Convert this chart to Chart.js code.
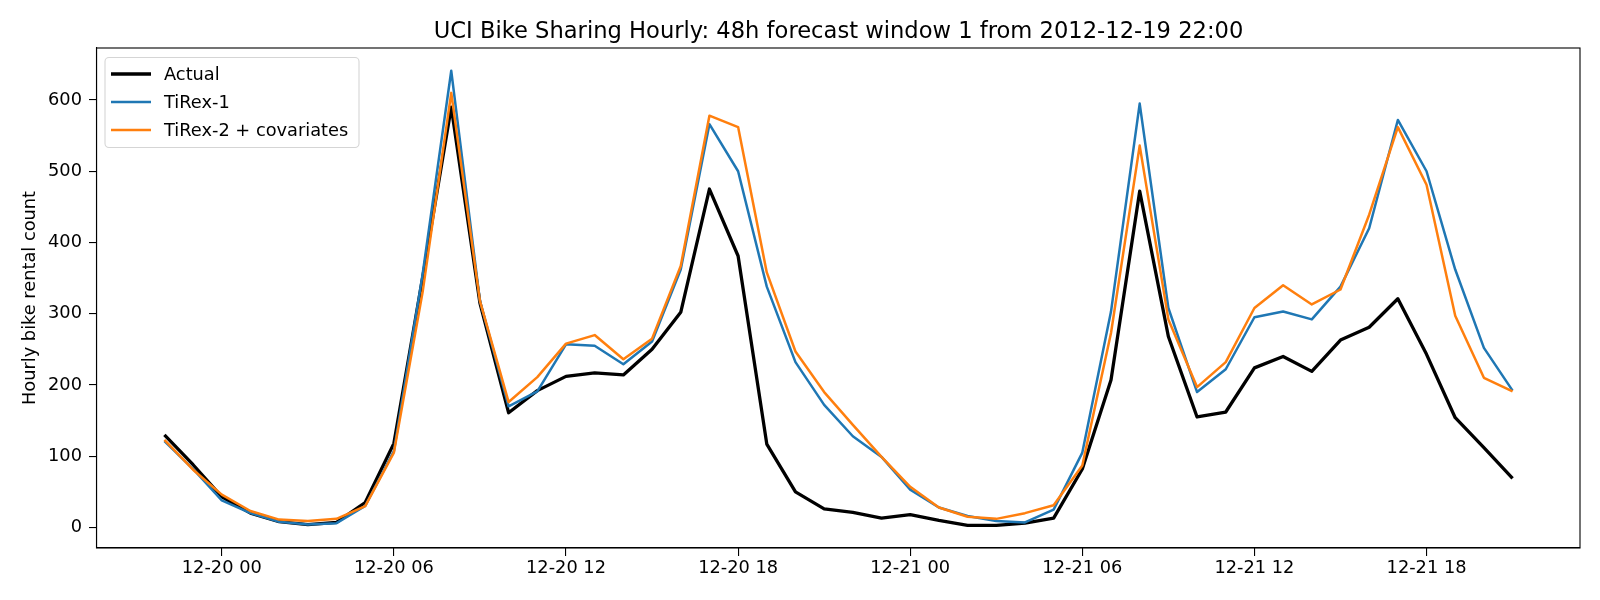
<!DOCTYPE html>
<html>
<head>
<meta charset="utf-8">
<script src="https://cdn.jsdelivr.net/npm/chart.js@4.4.1/dist/chart.umd.min.js"></script>
<style>
  html, body { margin: 0; padding: 0; background: #ffffff; }
  #wrap { width: 1600px; height: 600px; }
</style>
</head>
<body>
<div id="wrap"><canvas id="chart" width="1600" height="600"></canvas></div>
<script>
// Hourly window: index 0 = 2012-12-19 22:00, index 47 = 2012-12-21 21:00
const hours = [
  0, 1, 2, 3, 4, 5, 6, 7, 8, 9, 10, 11, 12, 13, 14, 15, 16, 17, 18, 19, 20, 21, 22, 23,
  24, 25, 26, 27, 28, 29, 30, 31, 32, 33, 34, 35, 36, 37, 38, 39, 40, 41, 42, 43, 44, 45, 46, 47
];

const actual = [
  130, 88, 43, 20, 8, 4, 7, 35, 118, 350, 590, 315, 161, 192, 212, 217, 214, 250, 302, 475, 381, 117, 50, 26,
  21, 13, 18, 10, 3, 3, 6, 13, 82, 207, 472, 268, 155, 162, 224, 240, 219, 263, 281, 321, 243, 154, 112, 69
];

const tirex1 = [
  121, 82, 38, 20, 8, 4, 6, 30, 107, 355, 641, 318, 170, 191, 257, 255, 229, 261, 362, 566, 500, 338, 232, 172,
  128, 99, 53, 28, 16, 9, 7, 25, 105, 303, 595, 308, 190, 222, 295, 303, 292, 338, 420, 572, 500, 362, 252, 192
];

const tirex2 = [
  123, 81, 46, 23, 11, 9, 12, 30, 105, 330, 610, 318, 176, 211, 258, 270, 236, 265, 367, 578, 562, 358, 247, 190,
  144, 99, 57, 28, 15, 12, 20, 31, 87, 273, 536, 292, 197, 232, 308, 340, 313, 334, 439, 562, 481, 297, 210, 191
];

const tickHours = [2, 8, 14, 20, 26, 32, 38, 44];
const tickLabels = ['12-20 00', '12-20 06', '12-20 12', '12-20 18', '12-21 00', '12-21 06', '12-21 12', '12-21 18'];
const yTicks = [0, 100, 200, 300, 400, 500, 600];

const seriesNames = ['Actual', 'TiRex-1', 'TiRex-2 + covariates'];
const seriesColors = ['#000000', '#1f77b4', '#ff7f0e'];

const chartTitle = 'UCI Bike Sharing Hourly: 48h forecast window 1 from 2012-12-19 22:00';
const FONT = "'DejaVu Sans', sans-serif";

function toPoints(vals) {
  return vals.map((v, i) => ({ x: hours[i], y: v }));
}

// title centred over the plot area (matplotlib style), not over the canvas
const axesTitle = {
  id: 'axesTitle',
  afterDraw(chart) {
    const a = chart.chartArea;
    const ctx = chart.ctx;
    ctx.save();
    ctx.font = '21.3px ' + FONT;
    // size the title so it spans the same width as in the reference
    const size = 21.3 * 810 / ctx.measureText(chartTitle).width;
    ctx.font = Math.min(23, Math.max(20, size)).toFixed(2) + 'px ' + FONT;
    ctx.fillStyle = '#000000';
    ctx.textAlign = 'center';
    ctx.textBaseline = 'alphabetic';
    ctx.fillText(chartTitle, (a.left + a.right) / 2, 37.5);
    ctx.restore();
  }
};

// axes frame (all four spines), drawn over the lines like matplotlib
const framePlugin = {
  id: 'frame',
  afterDatasetsDraw(chart) {
    const a = chart.chartArea;
    const ctx = chart.ctx;
    ctx.save();
    ctx.strokeStyle = '#000000';
    ctx.lineWidth = 1.1;
    ctx.strokeRect(a.left - 0.5, a.top, a.right - a.left + 0.5, a.bottom - a.top);
    ctx.restore();
  }
};

// matplotlib-style legend box in the upper left corner
const boxLegend = {
  id: 'boxLegend',
  afterDraw(chart) {
    const ctx = chart.ctx;
    const a = chart.chartArea;
    const x0 = a.left + 8, y0 = a.top + 9.5, w = 254, h = 90, r = 4;
    ctx.save();
    ctx.beginPath();
    ctx.roundRect(x0, y0, w, h, r);
    ctx.fillStyle = 'rgba(255,255,255,0.8)';
    ctx.fill();
    ctx.strokeStyle = '#d5d5d5';
    ctx.lineWidth = 1.1;
    ctx.stroke();
    ctx.font = '17.8px ' + FONT;
    ctx.textBaseline = 'middle';
    chart.data.datasets.forEach((ds, i) => {
      const y = y0 + 16.5 + i * 28;
      ctx.beginPath();
      ctx.strokeStyle = ds.borderColor;
      ctx.lineWidth = ds.borderWidth;
      ctx.moveTo(x0 + 6, y);
      ctx.lineTo(x0 + 46, y);
      ctx.stroke();
      ctx.fillStyle = '#000000';
      ctx.fillText(ds.label, x0 + 59, y + 1);
    });
    ctx.restore();
  }
};

const datasets = [actual, tirex1, tirex2].map((vals, i) => ({
  label: seriesNames[i],
  data: toPoints(vals),
  borderColor: seriesColors[i],
  backgroundColor: seriesColors[i],
  borderWidth: i === 0 ? 3.3 : 2.5,
  pointRadius: 0,
  tension: 0,
  borderJoinStyle: 'round',
  order: 3 - i
}));

new Chart(document.getElementById('chart').getContext('2d'), {
  type: 'line',
  data: { datasets: datasets },
  options: {
    responsive: false,
    animation: false,
    layout: { padding: { left: 0, right: 20, top: 48, bottom: 0 } },
    plugins: {
      legend: { display: false },
      tooltip: { enabled: false },
      title: { display: false }
    },
    scales: {
      x: {
        type: 'linear',
        min: -2.35,
        max: 49.35,
        afterBuildTicks(scale) {
          scale.ticks = tickHours.map(v => ({ value: v }));
        },
        afterFit(scale) { scale.height = 52; },
        grid: { display: true, drawOnChartArea: false, drawTicks: true, tickLength: 8, color: '#000000', lineWidth: 1.1 },
        border: { display: true, color: '#000000', width: 1.1 },
        ticks: {
          color: '#000000',
          font: { family: FONT, size: 17.8 },
          padding: 2,
          maxRotation: 0,
          autoSkip: false,
          callback(value) {
            const k = tickHours.indexOf(value);
            return k >= 0 ? tickLabels[k] : '';
          }
        }
      },
      y: {
        type: 'linear',
        min: -28.9,
        max: 673,
        afterBuildTicks(scale) {
          scale.ticks = yTicks.map(v => ({ value: v }));
        },
        afterFit(scale) { scale.width = 97; },
        grid: { display: true, drawOnChartArea: false, drawTicks: true, tickLength: 8, color: '#000000', lineWidth: 1.1 },
        border: { display: true, color: '#000000', width: 1.1 },
        title: {
          display: true,
          text: 'Hourly bike rental count',
          color: '#000000',
          font: { family: FONT, size: 17.8, weight: 'normal', lineHeight: 1.2 },
          padding: { top: 20, bottom: 0 }
        },
        ticks: {
          color: '#000000',
          font: { family: FONT, size: 17.8 },
          padding: 7,
          autoSkip: false
        }
      }
    }
  },
  plugins: [framePlugin, boxLegend, axesTitle]
});
</script>
</body>
</html>
